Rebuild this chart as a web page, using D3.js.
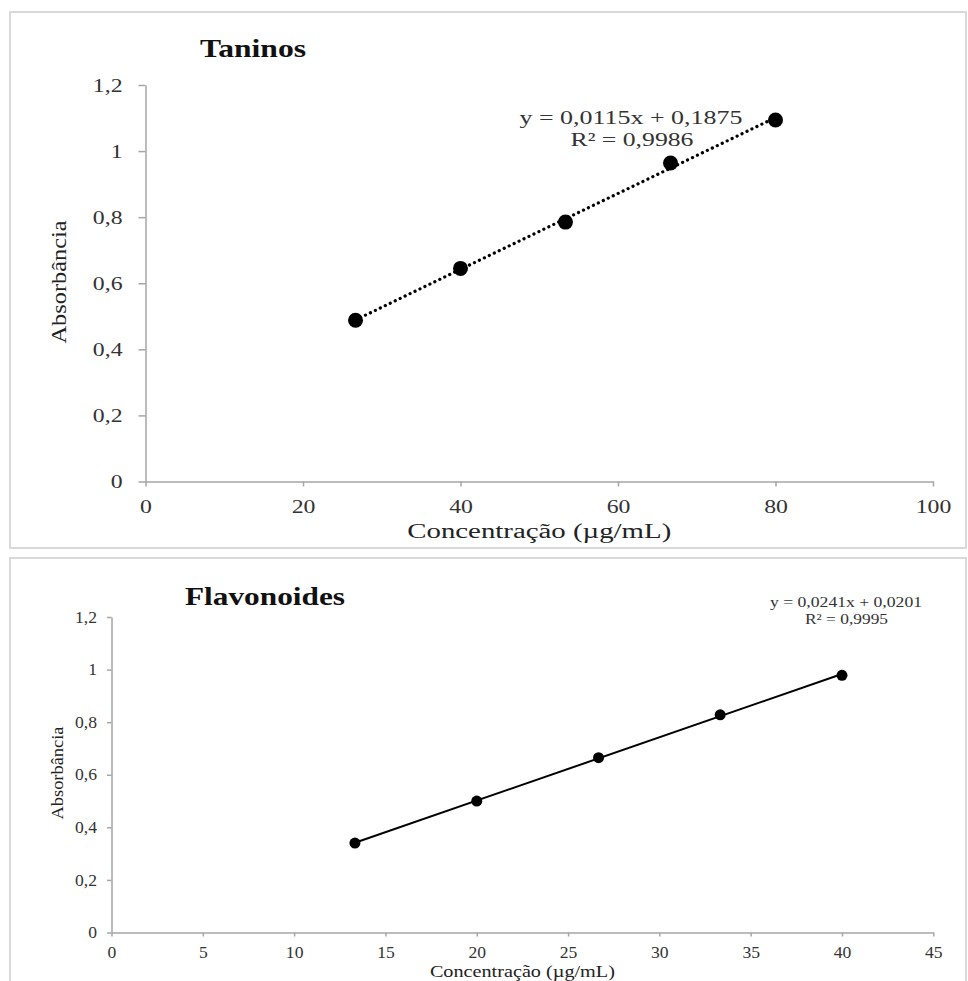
<!DOCTYPE html>
<html lang="pt">
  <head>
    <meta charset="utf-8">
    <title>Curvas de calibração</title>
    <script src="https://d3js.org/d3.v7.min.js"></script>
    <style>
      body {
        margin: 0;
        background: #fff;
      }

      svg text {
        font-family: 'Liberation Serif', 'Times New Roman', serif;
      }

      .axis path,
      .axis line {
        stroke: #a6a6a6;
        stroke-width: 1.5;
      }

      .axis text {
        fill: #333;
      }
    </style>
  </head>
  <body>
    <script>
      // Taninos
      const taninosX = [26.67, 40, 53.33, 66.67, 80];
      const taninosY = [0.488, 0.645, 0.785, 0.964, 1.094];
      const taninosXTicks = [0, 20, 40, 60, 80, 100];

      // Flavonoides
      const flavX = [13.33, 20, 26.67, 33.33, 40];
      const flavY = [0.34, 0.50, 0.665, 0.828, 0.978];
      const flavXTicks = [0, 5, 10, 15, 20, 25, 30, 35, 40, 45];

      const yTicks = [0, 0.2, 0.4, 0.6, 0.8, 1, 1.2];

      const w = 968;
      const h = 981;

      const ptBR = d3.formatLocale({decimal: ',', thousands: '.', grouping: [3], currency: ['R$', '']});
      const fmt = ptBR.format('~g');

      const svg = d3.select('body')
                    .append('svg')
                    .attr('width', w)
                    .attr('height', h);

      // stretch text sideways a bit, the original picture is wider than Times
      function stretch(sel, k) {
        sel.each(function() {
          const l = this.getComputedTextLength();
          d3.select(this).attr('textLength', l * k).attr('lengthAdjust', 'spacingAndGlyphs');
        });
      }

      function fit(sel, len) {
        sel.attr('textLength', len).attr('lengthAdjust', 'spacingAndGlyphs');
      }

      function drawChart(c) {
        const g = svg.append('g');

        g.append('rect')
         .attr('x', c.box[0])
         .attr('y', c.box[1])
         .attr('width', c.box[2])
         .attr('height', c.box[3])
         .attr('fill', '#fff')
         .attr('stroke', '#d9d9d9')
         .attr('stroke-width', 2);

        const xScale = d3.scaleLinear().domain(c.xDomain).range(c.xRange);
        const yScale = d3.scaleLinear().domain([0, 1.2]).range(c.yRange);

        const xAxis = d3.axisBottom(xScale)
                        .tickValues(c.xTicks)
                        .tickFormat(fmt)
                        .tickSize(c.xTick)
                        .tickSizeOuter(0)
                        .tickPadding(c.xPad);
        const yAxis = d3.axisLeft(yScale)
                        .tickValues(yTicks)
                        .tickFormat(fmt)
                        .tickSize(c.yTick)
                        .tickSizeOuter(0)
                        .tickPadding(c.yPad);

        const gx = g.append('g')
                    .attr('class', 'axis')
                    .attr('transform', `translate(0, ${c.yRange[0]})`)
                    .call(xAxis);
        const gy = g.append('g')
                    .attr('class', 'axis')
                    .attr('transform', `translate(${c.xRange[0]}, 0)`)
                    .call(yAxis);

        gx.selectAll('text').attr('font-size', c.tickFont).attr('font-family', null);
        gy.selectAll('text').attr('font-size', c.tickFont).attr('font-family', null);
        stretch(gx.selectAll('text'), c.tickStretch);
        stretch(gy.selectAll('text'), c.tickStretch);

        const pts = c.xs.map((x, i) => [x, c.ys[i]]);

        // linear trend line over the data range
        const mx = d3.mean(c.xs), my = d3.mean(c.ys);
        const b = d3.sum(pts, p => (p[0] - mx) * (p[1] - my)) / d3.sum(pts, p => (p[0] - mx) ** 2);
        const a = my - b * mx;
        const x0 = d3.min(c.xs), x1 = d3.max(c.xs);

        g.append('line')
         .attr('x1', xScale(x0))
         .attr('y1', yScale(a + b * x0))
         .attr('x2', xScale(x1))
         .attr('y2', yScale(a + b * x1))
         .attr('stroke', '#000')
         .attr('stroke-width', c.lineWidth)
         .attr('stroke-linecap', 'round')
         .attr('stroke-dasharray', c.dash);

        g.selectAll('circle.pt')
         .data(pts)
         .enter()
         .append('circle')
          .attr('class', 'pt')
          .attr('cx', d => xScale(d[0]))
          .attr('cy', d => yScale(d[1]))
          .attr('r', c.r)
          .attr('fill', '#000');

        g.append('text')
         .attr('x', c.title[0])
         .attr('y', c.title[1])
         .attr('font-size', c.title[2])
         .attr('font-weight', 'bold')
         .attr('fill', '#111')
         .text(c.name)
         .call(fit, c.title[3]);

        c.eq.forEach(e => {
          g.append('text')
           .attr('x', e.x)
           .attr('y', e.y)
           .attr('text-anchor', 'middle')
           .attr('font-size', e.size)
           .attr('fill', '#333')
           .text(e.t)
           .call(fit, e.len);
        });

        g.append('text')
         .attr('x', (c.xRange[0] + c.xRange[1]) / 2)
         .attr('y', c.xLabel[0])
         .attr('text-anchor', 'middle')
         .attr('font-size', c.xLabel[1])
         .attr('fill', '#222')
         .text('Concentração (µg/mL)')
         .call(fit, c.xLabel[2]);

        g.append('text')
         .attr('transform', `translate(${c.yLabel[0]}, ${c.yLabel[1]}) rotate(-90)`)
         .attr('text-anchor', 'middle')
         .attr('font-size', c.yLabel[2])
         .attr('fill', '#222')
         .text('Absorbância')
         .call(fit, c.yLabel[3]);
      }

      drawChart({
        name: 'Taninos',
        box: [10, 12, 956, 536],
        xs: taninosX,
        ys: taninosY,
        xDomain: [0, 100],
        xRange: [145.5, 933],
        yRange: [481.5, 85],
        xTicks: taninosXTicks,
        xTick: 5, xPad: 13, yTick: 7, yPad: 16,
        tickFont: 19, tickStretch: 1.25,
        lineWidth: 3.2, dash: '0.1 5.4', r: 7.5,
        title: [200, 57, 26, 106],
        eq: [
          {t: 'y = 0,0115x + 0,1875', x: 631, y: 124, size: 19, len: 223},
          {t: 'R² = 0,9986', x: 632, y: 146, size: 19, len: 123}
        ],
        xLabel: [538, 20, 264],
        yLabel: [66, 282, 22, 123]
      });

      drawChart({
        name: 'Flavonoides',
        box: [10, 558, 956, 440],
        xs: flavX,
        ys: flavY,
        xDomain: [0, 45],
        xRange: [111.5, 933.3],
        yRange: [932.5, 617],
        xTicks: flavXTicks,
        xTick: 4, xPad: 10, yTick: 4.5, yPad: 10,
        tickFont: 16, tickStretch: 1.1,
        lineWidth: 2, dash: null, r: 5.5,
        title: [185, 605, 26, 160],
        eq: [
          {t: 'y = 0,0241x + 0,0201', x: 846, y: 607, size: 14.5, len: 152},
          {t: 'R² = 0,9995', x: 846.5, y: 624, size: 14.5, len: 83}
        ],
        xLabel: [977, 17, 185],
        yLabel: [63, 773, 16, 93]
      });
    </script>
  </body>
</html>
